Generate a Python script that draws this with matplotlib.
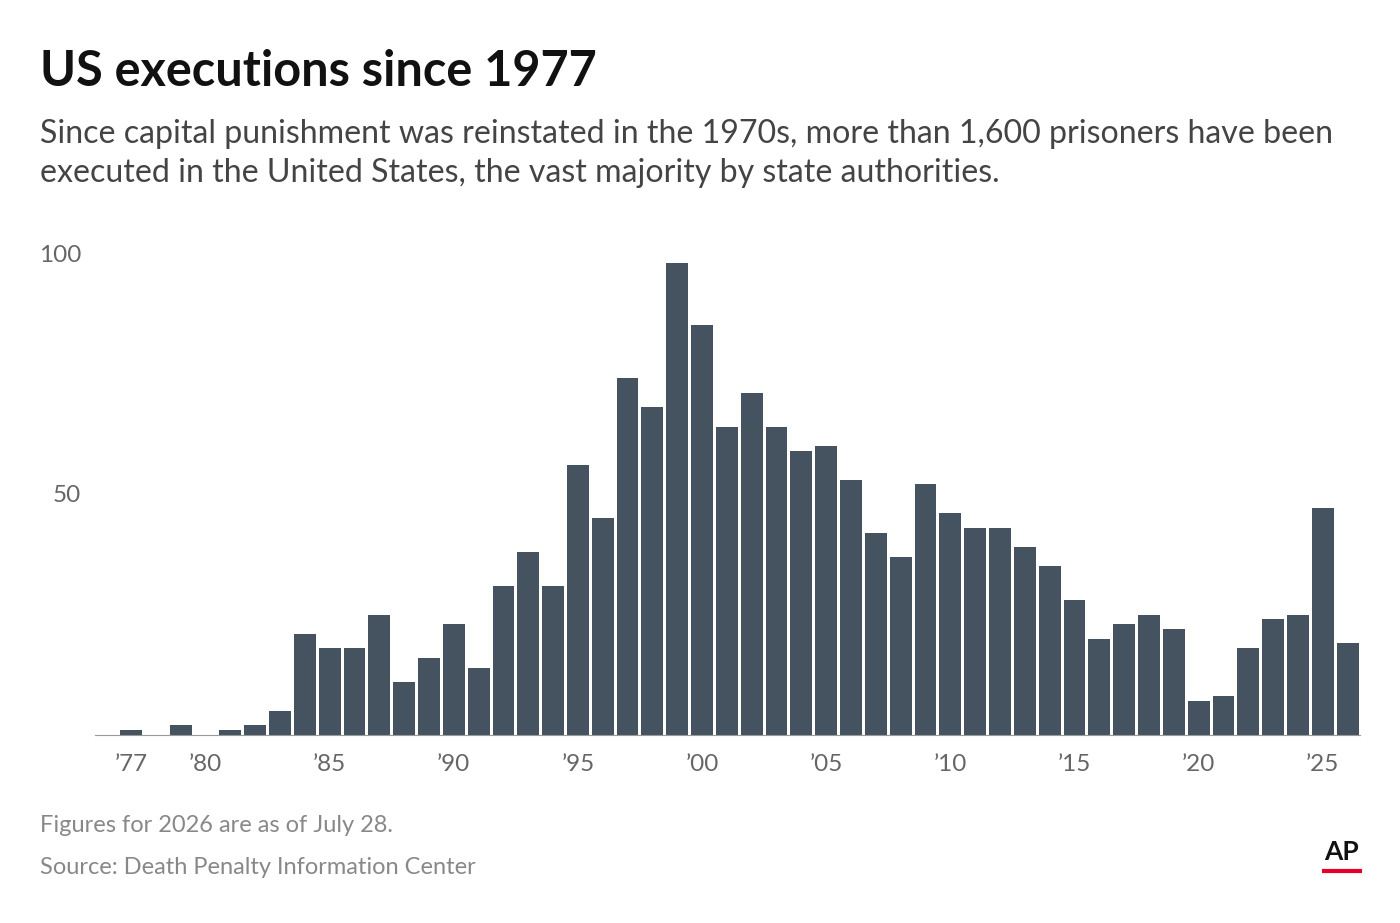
import matplotlib
matplotlib.use("Agg")
import matplotlib.pyplot as plt

years = list(range(1977, 2027))
executions = [1,0,2,0,1,2,5,21,18,18,25,11,16,23,14,31,38,31,56,45,74,68,98,85,
              64,71,64,59,60,53,42,37,52,46,43,43,39,35,28,20,23,25,22,7,8,18,24,25,47,19]
tick_years = [1977,1980,1985,1990,1995,2000,2005,2010,2015,2020,2025]
tick_labels = ["\u201977","\u201980","\u201985","\u201990","\u201995","\u201900","\u201905","\u201910","\u201915","\u201920","\u201925"]

plt.rcParams['font.family'] = ['Lato', 'DejaVu Sans']
fig = plt.figure(figsize=(14, 9.23), dpi=100)
ax = fig.add_axes([95/1400, 1-735/923, 1265/1400, (735-253)/923])
ax.bar(years, executions, width=0.88, color="#44535f")
ax.set_xlim(1975.55, 2026.5)
ax.set_ylim(0, 100)
for s in ["top", "right", "left"]:
    ax.spines[s].set_visible(False)
ax.spines["bottom"].set_color("#999999")
ax.set_yticks([50, 100])
ax.set_yticklabels(["50", "100"], fontsize=17.5, color="#666666")
ax.set_xticks(tick_years)
ax.set_xticklabels(tick_labels, fontsize=17.5, color="#666666")
ax.tick_params(axis="y", length=0, pad=10)
ax.tick_params(axis="x", length=0, pad=14)

fig.text(40/1400, 1-72/923, "US executions since 1977", fontsize=35, fontweight="bold", color="#111111", va="center")
fig.text(40/1400, 1-134/923, "Since capital punishment was reinstated in the 1970s, more than 1,600 prisoners have been",
         fontsize=23.1, color="#444444", va="center")
fig.text(40/1400, 1-173/923, "executed in the United States, the vast majority by state authorities.",
         fontsize=23.1, color="#444444", va="center")
fig.text(40/1400, 1-826/923, "Figures for 2026 are as of July 28.", fontsize=17, color="#888888", va="center")
fig.text(40/1400, 1-868/923, "Source: Death Penalty Information Center", fontsize=17, color="#888888", va="center")
fig.text(1342/1400, 1-852/923, "AP", fontsize=19, fontweight="bold", color="#111111", ha="center", va="center")
fig.add_artist(plt.Line2D([1324/1400, 1360/1400], [1-871/923, 1-871/923], color="#e4002b", lw=3))
fig.savefig("out.png", dpi=100)
